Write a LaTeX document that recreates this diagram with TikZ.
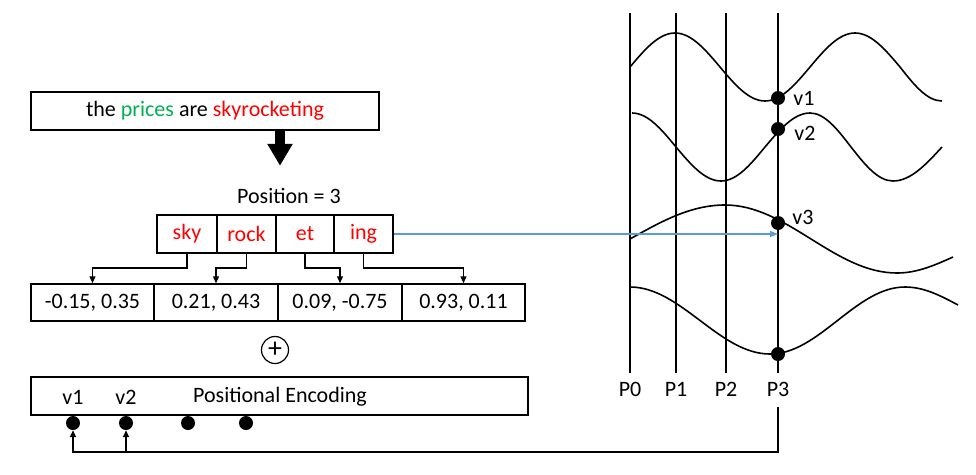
\documentclass[tikz,border=0pt]{standalone}
\usepackage{fontspec}
\setmainfont{Carlito}
\usetikzlibrary{arrows.meta,calc}
\definecolor{tgreen}{HTML}{00B050}
\definecolor{tred}{HTML}{FF0000}
\definecolor{tblue}{HTML}{5B9BD5}
\tikzset{
  box/.style={draw, line width=1.5pt, inner sep=0pt, minimum height=38pt},
  cell/.style={draw, line width=1.5pt, inner sep=0pt, minimum height=37pt},
  dot/.style={circle, fill, inner sep=0pt, minimum size=14pt},
  arr/.style={line width=1.3pt, -{Triangle[length=7pt,width=6pt]}},
  wave/.style={line width=1.6pt},
  pline/.style={line width=1.3pt},
}
\begin{document}
\begin{tikzpicture}[x=1pt,y=-1pt, every node/.style={font=\fontsize{22}{26}\selectfont}]
\useasboundingbox (0,0) rectangle (976,474);

% sentence
\node[box, minimum width=348pt] (sent) at (205,111) {the \textcolor{tgreen}{prices} are \textcolor{tred}{skyrocketing}};
\coordinate (bigtop) at (sent.south -| 280,0);
\draw[line width=10pt, -{Triangle[length=22pt,width=24pt]}] (bigtop) -- ++(0,35);

\node[inner sep=0pt] (pos) at (289,196) {Position = 3};

% tokens
\node[box, minimum width=60pt, text=tred] (t1) at (187,234) {sky};
\node[box, minimum width=59pt, text=tred] (t2) at (246.5,234) {rock};
\node[box, minimum width=58pt, text=tred] (t3) at (305,234) {et};
\node[box, minimum width=59pt, text=tred] (t4) at (363.5,234) {ing};

% vectors
\node[cell, minimum width=123pt] (c1) at (92.5,302.5) {-0.15, 0.35};
\node[cell, minimum width=124pt] (c2) at (216,302.5) {0.21, 0.43};
\node[cell, minimum width=124pt] (c3) at (340,302.5) {0.09, -0.75};
\node[cell, minimum width=123pt] (c4) at (463.5,302.5) {0.93, 0.11};

\draw[arr] (t1.south) -- (t1.south |- 0,268) -| (c1.north);
\draw[arr] (t2.south) -- (t2.south |- 0,268) -| (c2.north);
\draw[arr] (t3.south) -- (t3.south |- 0,268) -| (c3.north);
\draw[arr] (t4.south) -- (t4.south |- 0,268) -| (c4.north);

% plus
\node[circle, draw, line width=1.2pt, minimum size=27pt, inner sep=0pt, font=\fontsize{28}{28}\selectfont] (plus) at (275,350) {+};

% positional encoding
\node[box, minimum width=497pt] (pe) at (279.5,396) {};
\node[inner sep=0pt] (pv1) at (73,397) {v1};
\node[inner sep=0pt] (pv2) at (126,397) {v2};
\node[inner sep=0pt] (pet) at (280,397) {Positional Encoding};
\node[dot] (d1) at (73,423) {};
\node[dot] (d2) at (126,423) {};
\node[dot] (d3) at (188,423) {};
\node[dot] (d4) at (246,423) {};

% position lines
\foreach \n/\x in {0/630,1/676,2/726,3/778} {
  \coordinate (P\n top) at (\x,13);
  \coordinate (P\n bot) at (\x,373);
  \draw[pline] (P\n top) -- (P\n bot);
  \node[inner sep=0pt] (lP\n) at (\x,389) {P\n};
}

% waves
\draw[wave] (630,67) sin (675,33) cos (720,67) sin (765,101) cos (810,67) sin (855,33) cos (900,67) sin (942,101);
\draw[wave] (632,113) cos (676,147) sin (721,181) cos (765,147) sin (810,113) cos (851,147) sin (893,181) cos (942,147);
\draw[wave] (630,239) sin (725,205) cos (811,239) sin (897,273) cos (953,257);
\draw[wave] (630,287) cos (700,320.5) sin (770,354) cos (837.5,320.5) sin (905,287) cos (958,305);

% value dots
\node[dot] (r1) at (778,98) {};
\node[dot] (r2) at (778,129) {};
\node[dot] (r3) at (778,223) {};
\node[dot] (r4) at (778,354) {};
\node[inner sep=0pt] (lv1) at (804,98) {v1};
\node[inner sep=0pt] (lv2) at (805,133) {v2};
\node[inner sep=0pt] (lv3) at (803,217) {v3};

% blue arrow
\draw[tblue, line width=1.2pt, -{Triangle[length=8pt,width=6pt]}] (t4.east) -- (t4.east -| P3top);

% feedback connector
\coordinate (p3low) at (778,407);
\draw[arr, line width=1.5pt] (p3low) |- (d1.south |- 0,452) -- (d1.south);
\draw[arr, line width=1.5pt] (d2.south |- 0,452) -- (d2.south);
\end{tikzpicture}
\end{document}
